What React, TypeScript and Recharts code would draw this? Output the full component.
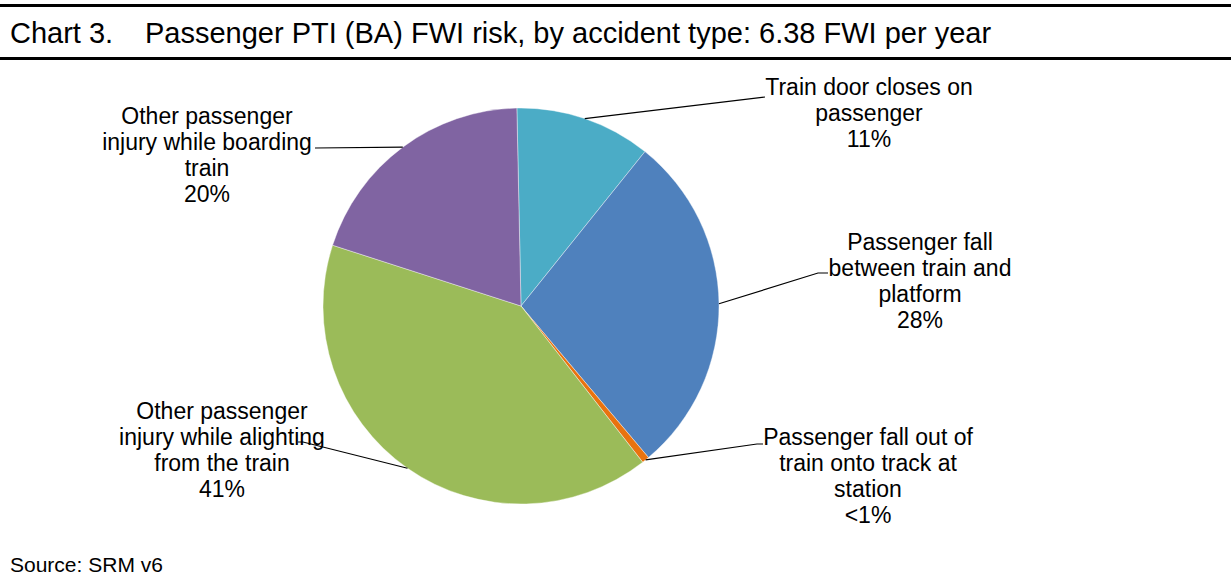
import { PieChart, Pie, Cell } from "recharts";

const categories = [
  "Train door closes on\npassenger",
  "Passenger fall\nbetween train and\nplatform",
  "Passenger fall out of\ntrain onto track at\nstation",
  "Other passenger\ninjury while alighting\nfrom the train",
  "Other passenger\ninjury while boarding\ntrain",
];
const shares = [11.1, 28.1, 0.6, 40.5, 19.7];
const shareLabels = ["11%", "28%", "<1%", "41%", "20%"];
const colors = ["#4BACC6", "#4F81BD", "#E9730F", "#9BBB59", "#8064A2"];

// label placement, offsets from the pie centre: text centre x, first baseline y, leader end points
const labelLayout = [
  { tx: 348, ty: -211, line: [[244, -209]] },
  { tx: 399, ty: -56, line: [[297, -33], [307, -33]] },
  { tx: 347, ty: 139, line: [[236, 138], [242, 138]] },
  { tx: -299, ty: 113, line: [[-218, 136], [-223, 136]] },
  { tx: -314, ty: -182, line: [[-206, -158]] },
];

const data = categories.map((name, i) => ({ name, value: shares[i] }));

const FONT = '"Liberation Sans", Arial, sans-serif';
const RAD = Math.PI / 180;

function renderLabel(props: any) {
  const { cx, cy, midAngle, outerRadius, index } = props;
  const lay = labelLayout[index];
  const sx = cx + outerRadius * Math.cos(-midAngle * RAD);
  const sy = cy + outerRadius * Math.sin(-midAngle * RAD);
  const pts = [[sx, sy], ...lay.line.map(([dx, dy]) => [cx + dx, cy + dy])];
  const lines = [...categories[index].split("\n"), shareLabels[index]];
  return (
    <g key={`lbl-${index}`}>
      <polyline
        points={pts.map((p) => p.join(",")).join(" ")}
        fill="none"
        stroke="#000"
        strokeWidth={1.2}
      />
      <text
        x={cx + lay.tx}
        y={cy + lay.ty}
        textAnchor="middle"
        fontFamily={FONT}
        fontSize={23}
        fill="#000"
      >
        {lines.map((t, j) => (
          <tspan key={j} x={cx + lay.tx} dy={j === 0 ? 0 : 26}>
            {t}
          </tspan>
        ))}
      </text>
    </g>
  );
}

export default function App() {
  return (
    <div
      style={{
        position: "absolute",
        left: 0,
        top: 0,
        width: 1231,
        height: 575,
        background: "#fff",
        fontFamily: FONT,
        overflow: "hidden",
      }}
    >
      <div style={{ position: "absolute", left: 0, top: 4, width: 1231, height: 3, background: "#000" }} />
      <div style={{ position: "absolute", left: 0, top: 57, width: 1231, height: 3, background: "#000" }} />
      <div style={{ position: "absolute", left: 10, top: 14, fontSize: 29, lineHeight: "38px", whiteSpace: "pre" }}>
        Chart 3.
      </div>
      <div style={{ position: "absolute", left: 145, top: 14, fontSize: 29, lineHeight: "38px", whiteSpace: "pre" }}>
        Passenger PTI (BA) FWI risk, by accident type: 6.38 FWI per year
      </div>
      <div style={{ position: "absolute", left: 10, top: 553, fontSize: 21, lineHeight: "24px" }}>
        Source: SRM v6
      </div>
      <div style={{ position: "absolute", left: 0, top: 0 }}>
        <PieChart width={1231} height={575} margin={{ top: 0, right: 0, bottom: 0, left: 0 }}>
          <Pie
            data={data}
            dataKey="value"
            nameKey="name"
            cx={521}
            cy={306}
            outerRadius={198}
            startAngle={91.2}
            endAngle={-268.8}
            stroke="#ffffff"
            strokeWidth={0.4}
            label={renderLabel}
            labelLine={false}
            isAnimationActive={false}
          >
            {data.map((_, i) => (
              <Cell key={i} fill={colors[i]} />
            ))}
          </Pie>
        </PieChart>
      </div>
    </div>
  );
}
